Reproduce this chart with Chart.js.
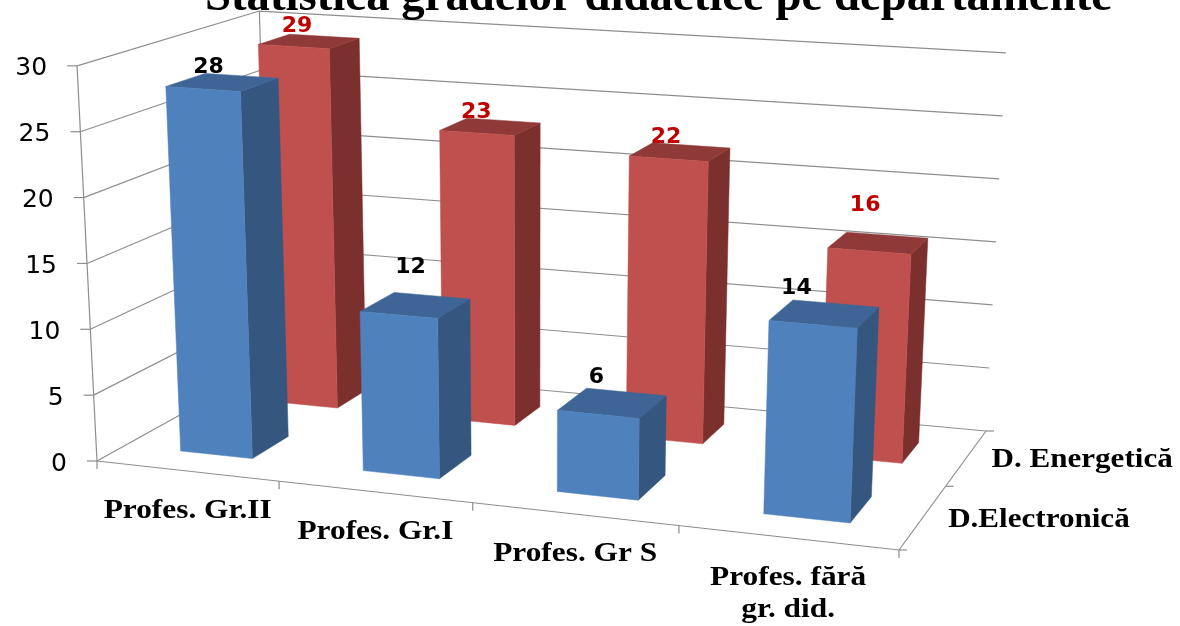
<!DOCTYPE html>
<html><head><meta charset="utf-8">
<style>html,body{margin:0;padding:0;background:#fff}canvas{display:block}</style>
<script src="https://cdn.jsdelivr.net/npm/chart.js@4/dist/chart.umd.min.js"></script>
</head><body><canvas id="c" width="1180" height="626"></canvas>
<script>
const titleText = "Statistica gradelor didactice pe departamente";
const categories = ["Profes. Gr.II","Profes. Gr.I","Profes. Gr S",["Profes. fără","gr. did."]];
const seriesNames = ["D.Electronică","D. Energetică"];
const electronica = [28,12,6,14];
const energetica = [29,23,22,16];
const yMax = 30, yStep = 5;

// Perspective box of the 3D plot (layout only)
const floorQuad = [[97,461],[899,550],[986,431],[270,365]];
const vanish = [532,9077];            // verticals converge here
const depthRanges = [[0.15,0.36],[0.65,0.84]];
const seriesShift = [0.003,0.007];
const labelNudge = [[[-14,-16],[-5,-39],[-16,-27],[-28,-27]],[[-12,-16],[-14,-15],[-14,-16],[-13,-39]]];
const palette = [
  {front:"#4f81bd",side:"#34567f",top:"#3e6595",label:"#000000"},
  {front:"#c0504d",side:"#7b302e",top:"#8f3a38",label:"#c00000"}
];
const GREY="#8e8e8e";

function homography(q){
  const [[x0,y0],[x1,y1],[x2,y2],[x3,y3]]=q;
  const dx1=x1-x2,dx2=x3-x2,sx=x0-x1+x2-x3,dy1=y1-y2,dy2=y3-y2,sy=y0-y1+y2-y3;
  const d=dx1*dy2-dx2*dy1;
  const g=(sx*dy2-dx2*sy)/d,h=(dx1*sy-sx*dy1)/d;
  const a=x1-x0+g*x1,b=x3-x0+h*x3,c=x0,e=y1-y0+g*y1,f=y3-y0+h*y3,k=y0;
  return (u,w)=>{const z=g*u+h*w+1;return [(a*u+b*w+c)/z,(e*u+f*w+k)/z];};
}
const floorH=homography(floorQuad);
function P(u,w,v){
  const [x,y]=floorH(u,w);
  const H=(202+0.42*y-0.005*x)*v;
  return [x+(x-vanish[0])/(vanish[1]-y)*H,y-H];
}
function line(ctx,a,b){ctx.beginPath();ctx.moveTo(a[0],a[1]);ctx.lineTo(b[0],b[1]);ctx.stroke();}
function poly(ctx,pts,col){ctx.fillStyle=col;ctx.strokeStyle=col;ctx.lineWidth=0.5;ctx.beginPath();pts.forEach((p,i)=>i?ctx.lineTo(p[0],p[1]):ctx.moveTo(p[0],p[1]));ctx.closePath();ctx.fill();ctx.stroke();}
function text(ctx,s,x,y,font,col,align,sx){
  ctx.save();ctx.translate(x,y);ctx.scale(sx||1,1);
  ctx.font=font;ctx.fillStyle=col;ctx.textAlign=align||"center";ctx.textBaseline="middle";
  ctx.fillText(s,0,0);ctx.restore();
}
const SERIF="bold 28px 'Liberation Serif'";

const box3d={
  id:"box3d",
  beforeDatasetsDraw(chart){
    const ctx=chart.ctx,area=chart.chartArea,ys=chart.scales.y,xs=chart.scales.x;
    const vOf=py=>(area.bottom-py)/(area.bottom-area.top);
    ctx.save();
    ys.ticks.forEach(t=>{
      const py=ys.getPixelForValue(t.value),v=vOf(py);
      const a=P(0,0,v),b=P(0,1,v),c=P(1,1,v);
      ctx.strokeStyle=GREY;ctx.lineWidth=1.2;
      line(ctx,[a[0]-10,a[1]],a);line(ctx,a,b);line(ctx,b,c);
      text(ctx,String(t.value),a[0]-30,py+3,"25px 'DejaVu Sans'","#000","right");
    });
    ctx.strokeStyle=GREY;ctx.lineWidth=1.2;
    line(ctx,P(0,0,0),P(0,0,1));line(ctx,P(0,1,0),P(0,1,1));
    line(ctx,P(0,0,0),P(1,0,0));line(ctx,P(1,0,0),P(1,1,0));
    const n=categories.length,step=xs.getPixelForValue(1)-xs.getPixelForValue(0);
    for(let i=0;i<=n;i++){
      const px=xs.getPixelForValue(0)+(i-0.5)*step;
      const p=P((px-area.left)/area.width,0,0);
      line(ctx,p,[p[0],p[1]+8]);
    }
    categories.forEach((c,i)=>{
      const u=(xs.getPixelForValue(i)-area.left)/area.width,p=P(u,0,0);
      const lines=Array.isArray(c)?c:[c];
      lines.forEach((s,j)=>text(ctx,s,p[0]+1,p[1]+40+j*32,SERIF,"#000","center",1.12));
    });
    [0,0.5,1].forEach(w=>{const p=P(1,w,0);line(ctx,p,[p[0]+8,p[1]]);});
    seriesNames.forEach((s,i)=>{
      const p=P(1,(i+0.5)/2,0);
      text(ctx,s,p[0]+25,p[1]+(i?2:3),SERIF,"#000","left",1.11);
    });
    [1,0].forEach(ds=>{
      const meta=chart.getDatasetMeta(ds),[w0,w1]=depthRanges[ds],col=palette[ds],sh=seriesShift[ds];
      meta.data.forEach(el=>{
        const u0=(el.x-el.width/2-area.left)/area.width+sh,u1=(el.x+el.width/2-area.left)/area.width+sh;
        const v=vOf(el.y),b=vOf(el.base);
        poly(ctx,[P(u1,w0,b),P(u1,w1,b),P(u1,w1,v),P(u1,w0,v)],col.side);
        poly(ctx,[P(u0,w0,v),P(u1,w0,v),P(u1,w1,v),P(u0,w1,v)],col.top);
        poly(ctx,[P(u0,w0,b),P(u1,w0,b),P(u1,w0,v),P(u0,w0,v)],col.front);
      });
    });
    [1,0].forEach(ds=>{
      const meta=chart.getDatasetMeta(ds),[w0,w1]=depthRanges[ds],col=palette[ds];
      const vals=chart.data.datasets[ds].data;
      meta.data.forEach((el,i)=>{
        const u=(el.x-area.left)/area.width+seriesShift[ds];
        const p=P(u,(w0+w1)/2,vOf(el.y));
        const nd=labelNudge[ds][i];
        text(ctx,String(vals[i]),p[0]+nd[0],p[1]+nd[1]+1,"bold 22px 'DejaVu Sans'",col.label,"center");
      });
    });
    ctx.font="bold 47px 'Liberation Serif'";ctx.fillStyle="#000";ctx.textAlign="left";ctx.textBaseline="alphabetic";
    ctx.fillText(titleText,205,10,907);
    ctx.restore();
    return false;
  }
};

new Chart(document.getElementById("c"),{
  type:"bar",
  data:{labels:categories,datasets:[
    {label:seriesNames[0],data:electronica,backgroundColor:palette[0].front,grouped:false},
    {label:seriesNames[1],data:energetica,backgroundColor:palette[1].front,grouped:false}
  ]},
  options:{
    responsive:false,animation:false,
    layout:{padding:{left:0,right:275,top:65,bottom:165}},
    datasets:{bar:{barPercentage:0.40,categoryPercentage:1}},
    plugins:{legend:{display:false},tooltip:{enabled:false},title:{display:false}},
    scales:{
      x:{display:true,grid:{display:false},border:{display:false},ticks:{display:false},afterFit(s){s.height=0;}},
      y:{min:0,max:yMax,grid:{display:false},border:{display:false},
         ticks:{display:false,stepSize:yStep},afterFit(s){s.width=75;}}
    }
  },
  plugins:[box3d]
});
</script></body></html>
